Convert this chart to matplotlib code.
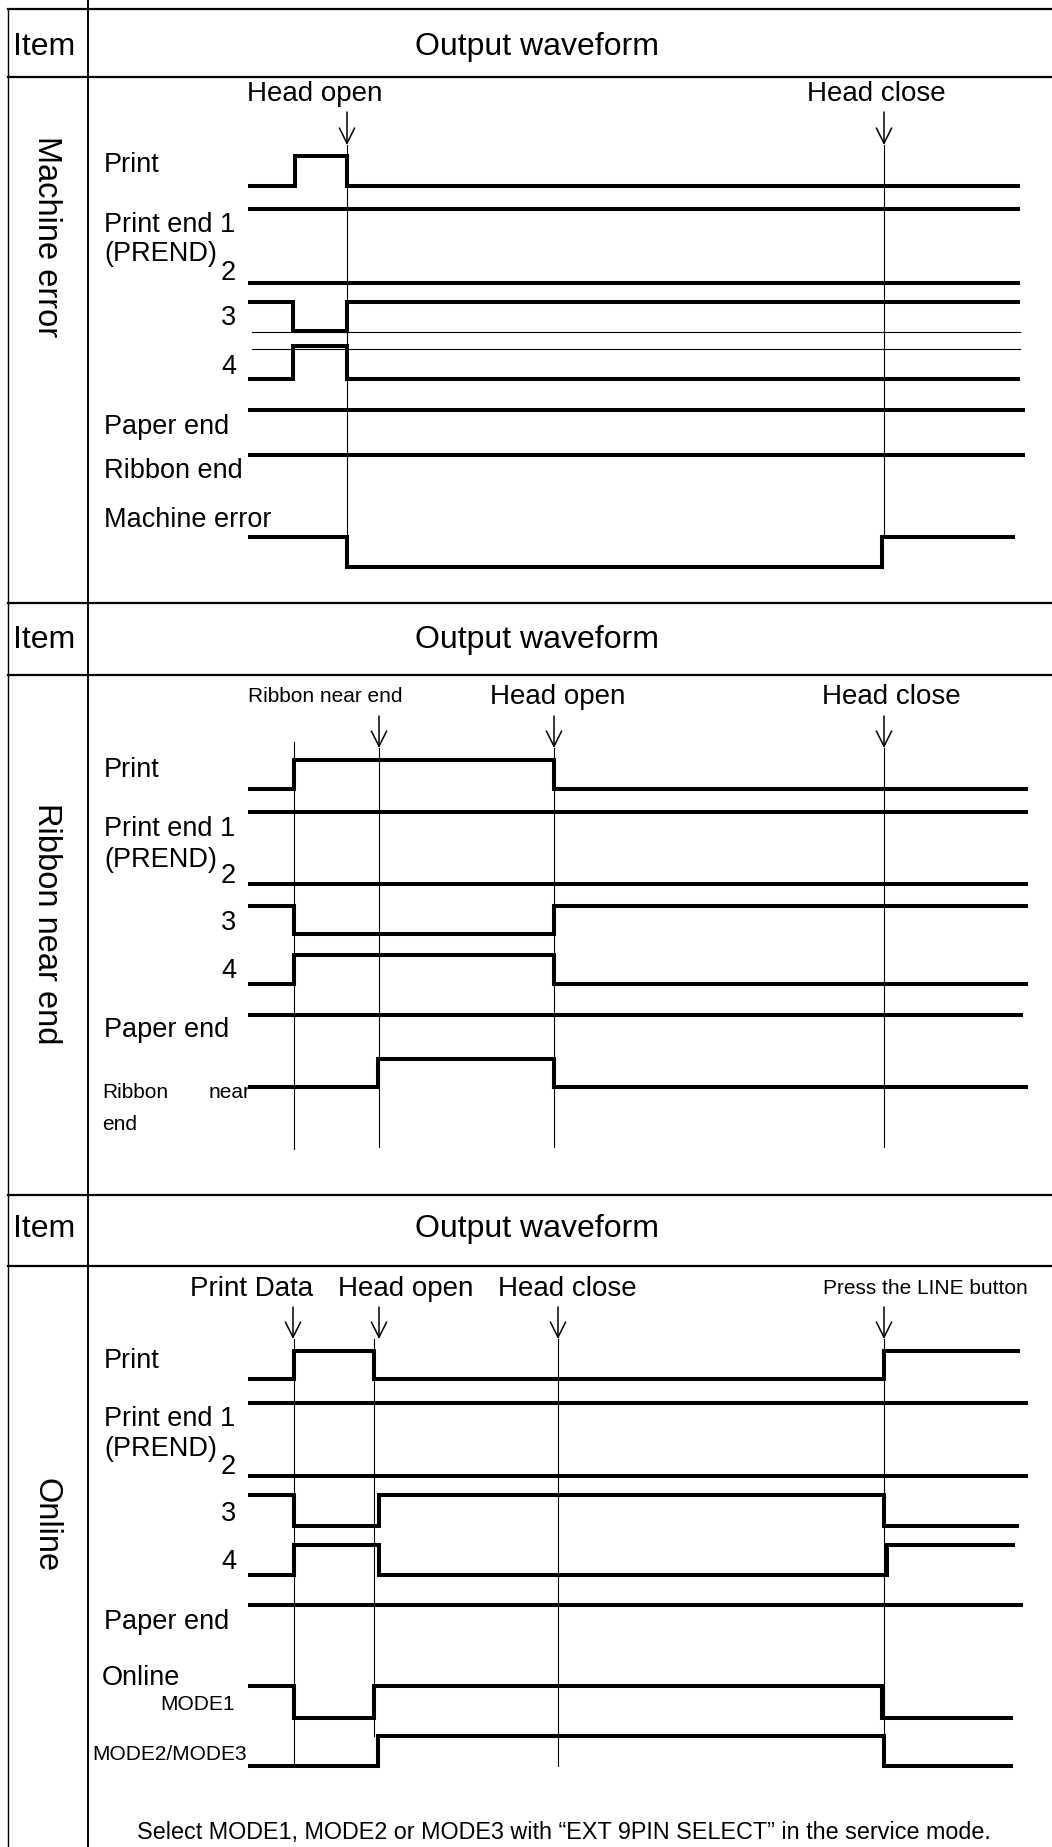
import matplotlib.pyplot as plt

plt.rcParams['font.family'] = ['Liberation Sans', 'DejaVu Sans']

# ---------------- data ----------------
section_titles = ['Machine error', 'Ribbon near end', 'Online']

# Machine error section: start level, transition times, end time of each signal
me_start = [0, 1, 0, 1, 0, 1, 1, 1]
me_edges = [[295, 347], [], [], [293, 347], [293, 347], [], [], [347, 882]]
me_stop = [1020, 1020, 1020, 1020, 1020, 1025, 1025, 1015]
me_events = ['Head open', 'Head close']
me_event_x = [347, 884]
me_guides = [347, 884]

# Ribbon near end section
rn_start = [0, 1, 0, 1, 0, 1, 0]
rn_edges = [[294, 554], [], [], [294, 554], [294, 554], [], [378, 554]]
rn_stop = [1028, 1028, 1028, 1028, 1028, 1023, 1028]
rn_events = ['Ribbon near end', 'Head open', 'Head close']
rn_event_x = [379, 554, 884]
rn_guides = [294, 379, 554, 884]

# Online section
on_start = [0, 1, 0, 1, 0, 1, 1, 0]
on_edges = [[294, 374, 884], [], [], [294, 379, 884], [294, 379, 887], [],
            [294, 374, 882], [378, 884]]
on_stop = [1020, 1028, 1028, 1019, 1015, 1023, 1013, 1013]
on_events = ['Print Data', 'Head open', 'Head close', 'Press the LINE button']
on_event_x = [293, 379, 558, 884]
on_guides = [294, 374, 558, 884]

footer = 'Select MODE1, MODE2 or MODE3 with \u201cEXT 9PIN SELECT\u201d in the service mode.'

# ---------------- layout (pixel space) ----------------
W, H = 1052, 1847
X0 = 248  # where all waveforms begin
LW = 2.9

me_rows = [(156, 186), (209, 239), (254, 283), (302, 331), (346, 379),
           (410, 440), (455, 485), (537, 567)]
rn_rows = [(760, 789), (812, 842), (855, 884), (906, 934), (955, 984),
           (1015, 1045), (1059, 1087)]
on_rows = [(1351, 1379), (1403, 1433), (1447, 1476), (1495, 1526), (1545, 1575),
           (1605, 1635), (1686, 1718), (1736, 1766)]

fig = plt.figure(figsize=(W / 100, H / 100), dpi=100)
ax = fig.add_axes([0, 0, 1, 1])
ax.set_xlim(0, W)
ax.set_ylim(H, 0)
ax.axis('off')


def wave(start, edges, stop, rows):
    for lvl, ed, xe, (yh, yl) in zip(start, edges, stop, rows):
        ys = {1: yh, 0: yl}
        xs, yy = [X0], [ys[lvl]]
        for e in ed:
            xs += [e, e]
            yy += [ys[lvl], ys[1 - lvl]]
            lvl = 1 - lvl
        xs.append(xe)
        yy.append(ys[lvl])
        ax.plot(xs, yy, color='black', lw=LW, solid_joinstyle='miter',
                solid_capstyle='butt')


def events(names, xs, label_x, label_y, sizes, top, bot):
    for n, x, lx, s in zip(names, xs, label_x, sizes):
        ax.text(lx, label_y, n, fontsize=s, ha='center', va='center')
        ax.annotate('', xy=(x, bot), xytext=(x, top),
                    arrowprops=dict(arrowstyle='->,head_length=1.1,head_width=0.55',
                                    lw=1.1, color='black', shrinkA=0, shrinkB=0))


def guides(xs, tops, bots):
    for x, t, b in zip(xs, tops, bots):
        ax.plot([x, x], [t, b], color='black', lw=0.8)


def row_labels(items):
    for txt, x, y, s, ha in items:
        ax.text(x, y, txt, fontsize=s, ha=ha, va='center')


# ---------------- table frame ----------------
for y in [9, 77, 603, 675, 1195, 1266]:
    ax.plot([8, W], [y, y], color='black', lw=1.6)
ax.plot([8, 8], [9, H], color='black', lw=1.0)
ax.plot([88, 88], [0, H], color='black', lw=1.4)

for hy in [47, 640, 1229]:
    ax.text(44, hy, 'Item', fontsize=23, ha='center', va='center')
    ax.text(537, hy, 'Output waveform', fontsize=23, ha='center', va='center')

for t, cy in zip(section_titles, [237, 924, 1525]):
    ax.text(46, cy, t, fontsize=23.5, ha='center', va='center', rotation=270)

# ---------------- section 1 ----------------
wave(me_start, me_edges, me_stop, me_rows)
ax.plot([252, 1020], [332, 332], color='black', lw=0.8)
ax.plot([252, 1020], [349, 349], color='black', lw=0.8)
events(me_events, me_event_x, [315, 876], 94, [20, 20], 112, 145)
guides(me_guides, [145, 145], [567, 537])
row_labels([('Print', 104, 165, 19.5, 'left'),
            ('Print end 1', 104, 225, 19.5, 'left'),
            ('(PREND)', 104, 254, 19.5, 'left'),
            ('2', 236, 273, 19.5, 'right'),
            ('3', 236, 318, 19.5, 'right'),
            ('4', 236, 367, 19.5, 'right'),
            ('Paper end', 104, 427, 19.5, 'left'),
            ('Ribbon end', 104, 471, 19.5, 'left'),
            ('Machine error', 104, 520, 19.5, 'left')])

# ---------------- section 2 ----------------
wave(rn_start, rn_edges, rn_stop, rn_rows)
events(rn_events, rn_event_x, [325, 558, 891], 697, [15, 20, 20], 716, 748)
guides(rn_guides, [742, 748, 748, 748], [1149, 1147, 1147, 1147])
row_labels([('Print', 104, 770, 19.5, 'left'),
            ('Print end 1', 104, 829, 19.5, 'left'),
            ('(PREND)', 104, 860, 19.5, 'left'),
            ('2', 236, 876, 19.5, 'right'),
            ('3', 236, 923, 19.5, 'right'),
            ('4', 236, 971, 19.5, 'right'),
            ('Paper end', 104, 1030, 19.5, 'left'),
            ('Ribbon', 102, 1092, 15, 'left'),
            ('near', 209, 1092, 15, 'left'),
            ('end', 102, 1124, 15, 'left')])

# ---------------- section 3 ----------------
wave(on_start, on_edges, on_stop, on_rows)
events(on_events, on_event_x, [252, 406, 567, 925], 1289, [20, 20, 20, 15], 1307, 1339)
guides(on_guides, [1339, 1339, 1339, 1339], [1766, 1736, 1766, 1766])
row_labels([('Print', 104, 1361, 19.5, 'left'),
            ('Print end 1', 104, 1419, 19.5, 'left'),
            ('(PREND)', 104, 1449, 19.5, 'left'),
            ('2', 236, 1467, 19.5, 'right'),
            ('3', 236, 1514, 19.5, 'right'),
            ('4', 236, 1562, 19.5, 'right'),
            ('Paper end', 104, 1622, 19.5, 'left'),
            ('Online', 102, 1678, 19.5, 'left'),
            ('MODE1', 235, 1705, 15, 'right'),
            ('MODE2/MODE3', 92, 1754, 15, 'left')])
ax.text(564, 1833, footer, fontsize=16.8, ha='center', va='center')

fig.savefig('out.png', dpi=100)
